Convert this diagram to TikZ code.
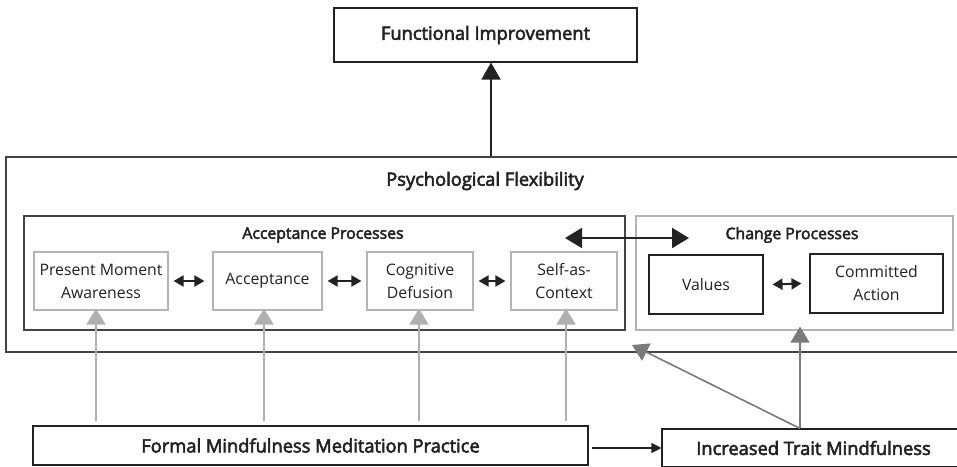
\documentclass[tikz,border=0pt]{standalone}
\usepackage{fontspec}
\setmainfont{Open Sans}
\newfontfamily\headfont{Open Sans}[FakeBold=3]
\usetikzlibrary{arrows.meta}
\definecolor{ink}{HTML}{222222}
\definecolor{frame}{HTML}{444444}
\definecolor{paleframe}{HTML}{B4B4B4}
\definecolor{midgray}{HTML}{7A7A7A}
\definecolor{palearrow}{HTML}{B0B0B0}
\tikzset{
  box/.style={draw=ink, line width=1.1pt, inner sep=0pt, align=center, text=ink, font=\fontsize{15.8}{23}\selectfont},
  headbox/.style={box, font=\headfont\fontsize{18.3}{22}\selectfont},
  palebox/.style={box, draw=paleframe, line width=1.2pt},
  heading/.style={text=ink, inner sep=0pt, font=\headfont\fontsize{18.3}{22}\selectfont},
  subheading/.style={heading, font=\headfont\fontsize{15.8}{19}\selectfont},
  twoway/.style={line width=2pt, ink, {Triangle[length=10pt,width=11pt]}-{Triangle[length=10pt,width=11pt]}},
  bigtwoway/.style={line width=2pt, ink, {Triangle[length=17pt,width=20pt]}-{Triangle[length=17pt,width=20pt]}},
  feed/.style={line width=2pt, palearrow, -{Triangle[length=16pt,width=19pt]}},
  trait/.style={line width=1.6pt, midgray, -{Triangle[length=16pt,width=19pt]}},
}
\begin{document}
\begin{tikzpicture}[x=1pt,y=-1pt]
\clip (0,0) rectangle (957,466);
\fill[white] (0,0) rectangle (957,466);

% outcome at the top
\node[headbox, minimum width=303pt, minimum height=54pt] (fi) at (485.5,35) {Functional Improvement};

% psychological flexibility frame (runs off the right edge)
\node[draw=frame, line width=1.2pt, minimum width=959pt, minimum height=195pt, inner sep=0pt] (pf) at (485.5,254.5) {};
\node[heading] (pftitle) at (485,181) {Psychological Flexibility};

% acceptance processes
\node[draw=frame, line width=1.2pt, minimum width=601pt, minimum height=114pt, inner sep=0pt] (ap) at (324.5,273) {};
\node[subheading] (aptitle) at (323,235) {Acceptance Processes};
\node[palebox, minimum width=134pt, minimum height=58pt] (pma) at (101,281) {Present Moment\\Awareness};
\node[palebox, minimum width=109pt, minimum height=58pt] (acc) at (267.5,281) {Acceptance};
\node[palebox, minimum width=106pt, minimum height=58pt] (cd) at (420,281) {Cognitive\\Defusion};
\node[palebox, minimum width=106pt, minimum height=58pt] (sac) at (564,281) {Self-as-\\Context};

% change processes
\node[draw=paleframe, line width=1.2pt, minimum width=317pt, minimum height=114pt, inner sep=0pt] (cp) at (794.5,273) {};
\node[subheading] (cptitle) at (792,235) {Change Processes};
\node[box, minimum width=114pt, minimum height=59pt] (val) at (706,284.5) {Values};
\node[box, minimum width=133pt, minimum height=59pt] (ca) at (876.5,283.5) {Committed\\Action};

% practice and trait
\node[headbox, minimum width=555pt, minimum height=39pt] (fmp) at (310.5,445.5) {Formal Mindfulness Meditation Practice};
\node[headbox, minimum width=303pt, minimum height=38pt] (itm) at (813.5,448) {Increased Trait Mindfulness};

% connectors
\draw[line width=1.4pt, ink, -{Triangle[length=17pt,width=19pt]}] (pf.north -| 491,0) -- (fi.south -| 491,0);
\draw[bigtwoway] (565,238) coordinate (bl) -- (689,238) coordinate (br);
\draw[twoway] ([xshift=5pt]pma.east) -- ([xshift=-8pt]acc.west);
\draw[twoway] ([xshift=5pt]acc.east) -- ([xshift=-5pt]cd.west);
\draw[twoway] ([xshift=5pt]cd.east) -- ([xshift=-5pt]sac.west);
\draw[twoway] ([xshift=9pt]val.east) -- ([xshift=-8pt]ca.west);

\foreach \n/\xx in {pma/96, acc/264, cd/419, sac/566}
  \draw[feed] (fmp.north -| \xx,0) ++(0,-4) -- ([yshift=2pt]\n.south -| \xx,0);

\draw[line width=1.1pt, ink, -{Triangle[length=10pt,width=10pt]}] ([xshift=3pt]fmp.east |- itm.center) -- (itm.west);
\draw[trait] (itm.north -| 800,0) -- ([yshift=4pt]cp.south -| 800,0);
\draw[trait] (itm.north -| 800,0) -- (632,345) coordinate (diagtip);
\end{tikzpicture}
\end{document}
